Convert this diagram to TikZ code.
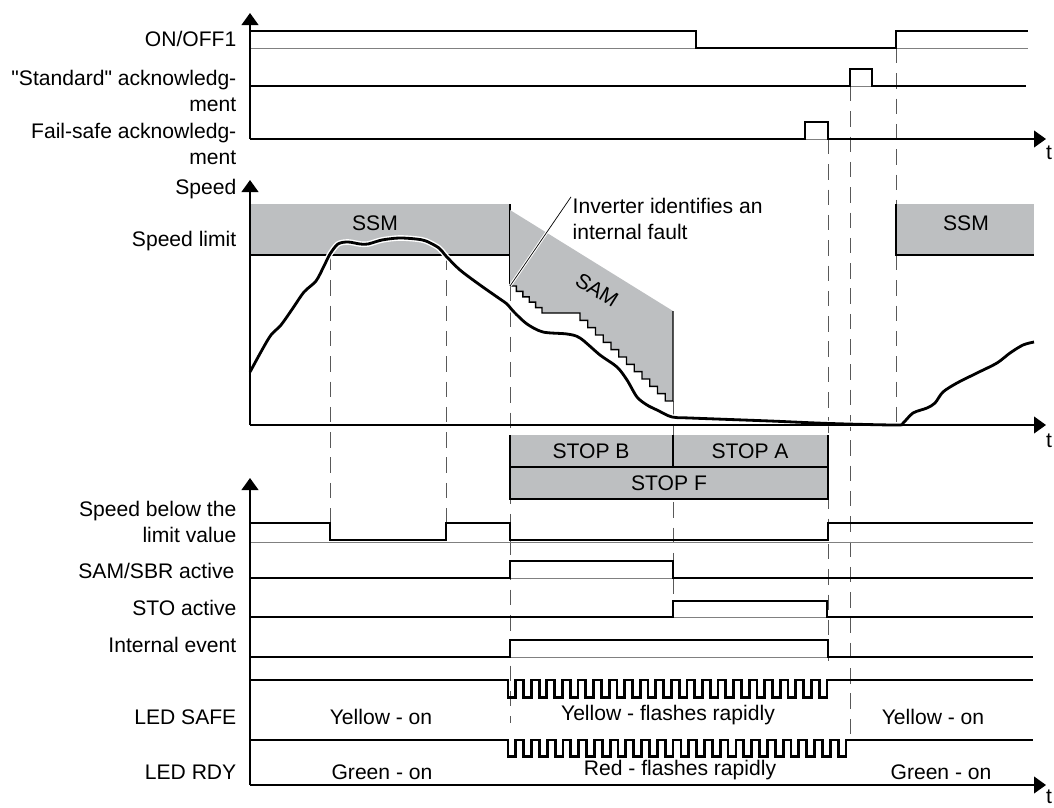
\documentclass[tikz,border=0pt]{standalone}
\usepackage{fontspec}
\setmainfont{Liberation Sans}[Ligatures=TeXOff]
\setsansfont{Liberation Sans}[Ligatures=TeXOff]
\usetikzlibrary{arrows.meta}
\definecolor{zonegray}{RGB}{189,191,193}

\begin{document}
\begin{tikzpicture}[
  x=0.025cm, y=-0.025cm,
  font=\sffamily\fontsize{15}{18}\selectfont,
  every node/.style={align=center, inner sep=1pt},
  %% ─── styles ────────────────────────────────────────────────
  lbl/.style={anchor=east, align=right},
  sig/.style={line width=2pt, line join=miter},
  baseln/.style={line width=0.6pt, black!50},
  axisln/.style={line width=1.1pt},
  tarrow/.style={-{Triangle[length=0.3cm, width=0.42cm]}, line width=1.1pt},
  guide/.style={line width=0.7pt, black!65, dash pattern=on 11pt off 7pt},
  curve/.style={line width=2pt, line join=round},
  halo/.style={white, line width=4pt, line join=round}
]
  \useasboundingbox (0,0) rectangle (1054,808);

  %% ─── 0. dashed time marks ──────────────────────────────────
  \draw[guide] (330,255) -- (330,523);
  \draw[guide] (446,255) -- (446,523);
  \draw[guide] (510,286) -- (510,723);
  \draw[guide] (673,401) -- (673,601);
  \draw[guide] (828,139) -- (828,667);
  \draw[guide] (850,86) -- (850,737);
  \draw[guide] (896,48) -- (896,204);
  \draw[guide] (896,255) -- (896,425);

  %% ─── 1. input signals (top) ────────────────────────────────
  \node[lbl] (OnOff) at (238,39) {ON/OFF1};
  \node[lbl] (StdAck) at (238,91) {"Standard" acknowledg-\\ment};
  \node[lbl] (FsAck) at (238,144) {Fail-safe acknowledg-\\ment};

  \draw[baseln] (250,48) -- (1028,48);
  \draw[sig] (250,31) -- (696,31) -- (696,48) -- (896,48) -- (896,31) -- (1028,31);

  \draw[baseln] (850,86) -- (872,86);
  \draw[sig] (250,86) -- (850,86) -- (850,69) -- (872,69) -- (872,86) -- (1026,86);

  \draw[baseln] (805,139) -- (828,139);
  \draw[sig] (250,139) -- (805,139) -- (805,122) -- (828,122) -- (828,139) -- (1030,139);
  \draw[tarrow] (1020,139) -- (1046,139);
  \node (tTop) at (1049,153) {t};

  \draw[tarrow] (250,139) -- (250,13);

  %% ─── 2. speed diagram ──────────────────────────────────────
  \node[lbl] (SpeedLbl) at (238,189) {Speed};
  \node[lbl] (LimitLbl) at (238,241) {Speed limit};

  % SSM band before the fault
  \fill[zonegray] (250,204) rectangle (510,255);
  \draw[axisln] (250,255) -- (510,255);
  \draw[axisln] (510,204) -- (510,286);
  \node (SSMa) at (375,223) {SSM};

  % SAM ramp with stepped lower edge
  \fill[zonegray] (510,286) \foreach \i in {1,...,5} { -- ++(6.4,0) -- ++(0,5.4) }
    -- (580,313) \foreach \i in {1,...,12} { -- ++(0,7.33) -- ++(7.75,0) }
    -- (673,311) -- (510,210) -- cycle;
  \draw[line width=1pt] (510,286) \foreach \i in {1,...,5} { -- ++(6.4,0) -- ++(0,5.4) }
    -- (580,313) \foreach \i in {1,...,12} { -- ++(0,7.33) -- ++(7.75,0) }
    -- (673,311);
  \node[rotate=-32] (SAM) at (597,290) {SAM};

  % SSM band after restart
  \fill[zonegray] (896,204) rectangle (1034,255);
  \draw[axisln] (896,204) -- (896,255) -- (1034,255);
  \node (SSMb) at (966,223) {SSM};

  % fault annotation
  \coordinate (FaultPt) at (510,286);
  \node[anchor=west, align=left] (Fault) at (571,219) {Inverter identifies an\\internal fault};
  \draw[white, line width=2pt] (FaultPt) -- (Fault.north west);
  \draw[line width=0.5pt] (FaultPt) -- (Fault.north west);

  % speed curve
  \def\speedpts{(250,372) (262,350) (271,335) (281,325) (293,308) (304,292) (316,281)
    (324,266) (330,254) (338,244) (348,242) (360,244) (368,244) (382,240) (399,238)
    (416,239) (426,241) (439,248) (446,256) (460,270) (480,285) (500,299) (507,304)
    (514,312) (527,324) (543,332) (567,334) (580,338) (600,355) (617,367) (627,380)
    (637,397) (647,405) (657,410) (672,417) (690,418) (770,421) (830,423.5) (896,425)
    (903,423) (913,413) (927,408) (935,403) (943,392) (957,383) (977,373) (997,363)
    (1010,353) (1023,345) (1034,342)}
  \draw[halo] plot[smooth, tension=0.5] coordinates {\speedpts};
  \draw[curve] plot[smooth, tension=0.5] coordinates {\speedpts};

  \draw[tarrow] (250,425) -- (250,180);
  \draw[tarrow] (250,425) -- (1046,425);
  \node (tMid) at (1049,441) {t};

  %% ─── 3. stop reactions ─────────────────────────────────────
  \fill[zonegray] (510,435) rectangle (828,499);
  \draw[axisln] (510,435) -- (510,499) -- (828,499) -- (828,435);
  \draw[axisln] (510,467) -- (828,467);
  \draw[axisln] (673,435) -- (673,467);
  \node (StopB) at (591,451) {STOP B};
  \node (StopA) at (750,451) {STOP A};
  \node (StopF) at (669,483) {STOP F};

  %% ─── 4. status signals (bottom) ────────────────────────────
  \node[lbl] (BelowLbl) at (238,522) {Speed below the\\limit value};
  \node[lbl] (SamLbl) at (236,571) {SAM/SBR active};
  \node[lbl] (StoLbl) at (238,608) {STO active};
  \node[lbl] (EventLbl) at (238,645) {Internal event};
  \node[lbl] (SafeLbl) at (238,717) {LED SAFE};
  \node[lbl] (RdyLbl) at (238,772) {LED RDY};

  \draw[baseln] (250,542) -- (1033,542);
  \draw[sig] (250,523) -- (330,523) -- (330,540) -- (446,540) -- (446,523) -- (510,523)
    -- (510,540) -- (828,540) -- (828,523) -- (1033,523);

  \draw[baseln] (510,578) -- (673,578);
  \draw[sig] (250,578) -- (510,578) -- (510,561) -- (673,561) -- (673,578) -- (1033,578);

  \draw[baseln] (673,617) -- (827,617);
  \draw[sig] (250,617) -- (673,617) -- (673,601) -- (827,601) -- (827,617) -- (1033,617);

  \draw[baseln] (510,657) -- (828,657);
  \draw[sig] (250,657) -- (510,657) -- (510,640) -- (828,640) -- (828,657) -- (1033,657);

  % LED rows with rapid flashing
  \draw[sig] (250,680) -- (508,680)
    \foreach \k in {1,...,21} { -- ++(0,17.7) -- ++(7.78,0) -- ++(0,-17.7) -- ++(7.78,0) }
    -- (1033,680);
  \draw[sig] (250,740) -- (508,740)
    \foreach \k in {1,...,22} { -- ++(0,16.7) -- ++(7.86,0) -- ++(0,-16.7) -- ++(7.86,0) }
    -- (1033,740);

  \node (SafeOn1) at (381,717) {Yellow - on};
  \node (SafeFlash) at (668,715) {Yellow - flashes rapidly};
  \node (SafeOn2) at (933,717) {Yellow - on};
  \node (RdyOn1) at (382,772) {Green - on};
  \node (RdyFlash) at (680,770) {Red - flashes rapidly};
  \node (RdyOn2) at (941,772) {Green - on};

  \draw[tarrow] (250,785) -- (250,478);
  \draw[tarrow] (250,785) -- (1046,785);
  \node (tBot) at (1049,797) {t};

\end{tikzpicture}
\end{document}
